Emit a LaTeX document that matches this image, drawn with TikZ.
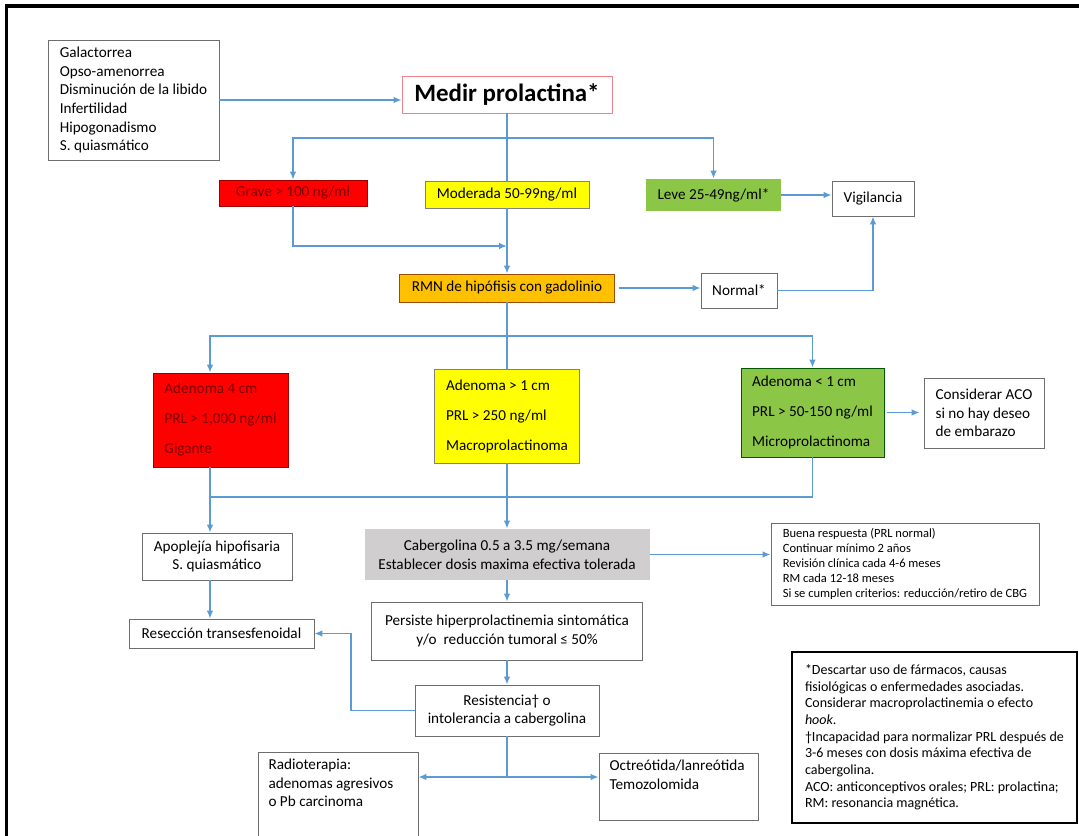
\documentclass[tikz,border=0pt]{standalone}
\usepackage{fontspec}
\setmainfont{Carlito}
\usepackage{tikz}
\usetikzlibrary{positioning}
\usetikzlibrary{shapes,arrows,calc,arrows.meta}

\definecolor{azul}{RGB}{91,155,213}
\definecolor{rojo}{RGB}{255,0,0}
\definecolor{rojotxt}{RGB}{125,0,0}
\definecolor{amarillo}{RGB}{255,255,0}
\definecolor{verde}{RGB}{140,198,70}
\definecolor{naranja}{RGB}{255,192,0}
\definecolor{gris}{RGB}{208,206,206}
\definecolor{rosa}{RGB}{240,130,140}
\definecolor{borde}{RGB}{110,110,110}

\newcommand{\pxu}{0.75pt}

\tikzset{
  caja/.style={draw=borde, line width=0.6pt, fill=white, align=center, inner sep=2pt,
    font=\fontsize{11.4}{14}\selectfont},
  cajaizq/.style={caja, align=left},
  texto/.style={align=left, inner xsep=8pt, inner ysep=5pt, anchor=north west,
    font=\fontsize{11.4}{14}\selectfont},
  flecha/.style={draw=azul, line width=1.4pt, -{Latex[length=6pt,width=5pt]}},
  linea/.style={draw=azul, line width=1.4pt},
}

\begin{document}
\begin{tikzpicture}[x=0.75pt, y=-0.75pt]
  % Page size and frame
  \clip (0,0) rectangle (1079,836);
  \fill[white] (0,0) rectangle (1079,836);
  \draw[line width=2.5pt] (1090,6) -- (6.5,6) -- (6.5,850);

  % Symptoms and first test
  \node[cajaizq, minimum width=171*\pxu, minimum height=120*\pxu] (sintomas) at (133.5,100)
    {Galactorrea\\Opso-amenorrea\\Disminución de la libido\\Infertilidad\\Hipogonadismo\\S. quiasmático};
  \node[caja, draw=rosa, minimum width=210*\pxu, minimum height=37*\pxu,
    font=\fontsize{18.7}{22}\selectfont\bfseries] (medir) at (507,94.5) {Medir prolactina*};

  % Prolactin levels
  \node[caja, fill=rojo, draw=red!60!black, text=rojotxt, minimum width=148*\pxu, minimum height=26*\pxu] (grave) at (293,193) {Grave > 100 ng/ml};
  \node[caja, fill=amarillo, draw=gray, minimum width=164*\pxu, minimum height=27*\pxu] (moderada) at (507,194.5) {Moderada 50-99ng/ml};
  \node[caja, fill=verde, draw=none, minimum width=135*\pxu, minimum height=32*\pxu] (leve) at (713.5,195) {Leve 25-49ng/ml*};
  \node[caja, minimum width=82*\pxu, minimum height=35*\pxu] (vigilancia) at (873,198.5) {Vigilancia};

  % Imaging
  \node[caja, fill=naranja, draw=orange!60!black, minimum width=215*\pxu, minimum height=28*\pxu] (rmn) at (507,288) {RMN de hipófisis con gadolinio};
  \node[caja, minimum width=76*\pxu, minimum height=35*\pxu] (normal) at (739,290.5) {Normal*};

  % Adenoma types
  \node[cajaizq, fill=rojo, draw=red!60!black, text=rojotxt, minimum width=135*\pxu, minimum height=94*\pxu,
    font=\fontsize{11.4}{22.5}\selectfont] (adgig) at (220.5,420) {Adenoma 4 cm\\PRL > 1,000 ng/ml\\Gigante};
  \node[cajaizq, fill=amarillo, draw=gray, minimum width=145*\pxu, minimum height=94*\pxu,
    font=\fontsize{11.4}{22.5}\selectfont] (macro) at (507,416) {Adenoma > 1 cm\\PRL > 250 ng/ml\\Macroprolactinoma};
  \node[cajaizq, fill=verde, draw=green!35!black, minimum width=143*\pxu, minimum height=89*\pxu,
    font=\fontsize{11.4}{22.5}\selectfont] (micro) at (812.5,412.5) {Adenoma < 1 cm\\PRL > 50-150 ng/ml\\Microprolactinoma};
  \node[cajaizq, minimum width=120*\pxu, minimum height=70*\pxu] (aco) at (984,413) {Considerar ACO\\si no hay deseo\\de embarazo};

  % Treatment
  \node[caja, minimum width=150*\pxu, minimum height=47*\pxu] (apop) at (217,556.5) {Apoplejía hipofisaria\\S. quiasmático};
  \node[caja, fill=gris, draw=none, minimum width=285*\pxu, minimum height=51*\pxu] (cab) at (507,554.5)
    {Cabergolina 0.5 a 3.5 mg/semana\\Establecer dosis maxima efectiva tolerada};
  \node[cajaizq, minimum width=268*\pxu, minimum height=82*\pxu, font=\fontsize{9.4}{11.25}\selectfont] (buena) at (905,564)
    {Buena respuesta (PRL normal)\\Continuar mínimo 2 años\\Revisión clínica cada 4-6 meses\\RM cada 12-18 meses\\Si se cumplen criterios: reducción/retiro de CBG};
  \node[caja, minimum width=185*\pxu, minimum height=29*\pxu] (resec) at (221.5,633.5) {Resección transesfenoidal};
  \node[caja, minimum width=271*\pxu, minimum height=58*\pxu] (persiste) at (507,631)
    {Persiste hiperprolactinemia sintomática\\y/o\ \ reducción tumoral ≤ 50\%};
  \node[caja, minimum width=184*\pxu, minimum height=51*\pxu] (resist) at (507,710.5) {Resistencia† o\\intolerancia a cabergolina};
  \node[caja, anchor=north, minimum width=160*\pxu, minimum height=100*\pxu] (radio) at (338,752) {};
  \node[texto] (radiotxt) at (radio.north west) {Radioterapia:\\adenomas agresivos\\o Pb carcinoma};
  \node[caja, anchor=north, minimum width=159*\pxu, minimum height=67*\pxu] (octre) at (678.5,753) {};
  \node[texto] (octretxt) at (octre.north west) {Octreótida/lanreótida\\Temozolomida};

  % Footnote
  \node[cajaizq, draw=black, line width=1.5pt, minimum width=285*\pxu, minimum height=171*\pxu,
    font=\fontsize{10.5}{12.5}\selectfont] (nota) at (934.5,737.5)
    {*Descartar uso de fármacos, causas\\fisiológicas o enfermedades asociadas.\\Considerar macroprolactinemia o efecto\\\textit{hook}.\\†Incapacidad para normalizar PRL después de\\3-6 meses con dosis máxima efectiva de\\cabergolina.\\ACO: anticonceptivos orales; PRL: prolactina;\\RM: resonancia magnética.};

  % Junction points
  \coordinate (sp1) at (507,138);
  \coordinate (jn) at (507,246);
  \coordinate (sp2) at (507,336);
  \coordinate (mrg) at (507,497);
  \coordinate (sp3) at (507,777);
  \coordinate (cl) at (210,0);
  \coordinate (rb) at (351,0);

  % Connectors
  \draw[flecha] (sintomas.east) -- (sintomas.east -| medir.west);
  \draw[linea] (medir.south) -- (moderada.north);
  \draw[flecha] (sp1) -| (grave.north);
  \draw[flecha] (sp1) -| (leve.north);
  \draw[flecha] (leve.east) -- (leve.east -| vigilancia.west);
  \draw[flecha] (grave.south) |- (jn);
  \draw[flecha] (moderada.south) -- (rmn.north);
  \draw[flecha, shorten <=3pt] (rmn.east) -- (rmn.east -| normal.west);
  \draw[flecha] (normal.east) -| (vigilancia.south);
  \draw[linea] (rmn.south) -- (macro.north);
  \draw[flecha] (sp2) -| (cl |- adgig.north);
  \draw[flecha] (sp2) -| (micro.north);
  \draw[flecha, shorten <=2pt, shorten >=3pt] (micro.east) -- (micro.east -| aco.west);
  \draw[linea] (micro.south) |- (cl |- mrg);
  \draw[flecha] (cl |- adgig.south) -- (cl |- apop.north);
  \draw[flecha] (macro.south) -- (cab.north);
  \draw[flecha] (cab.east) -- (cab.east -| buena.west);
  \draw[flecha] (cab.south) -- (persiste.north);
  \draw[flecha] (cl |- apop.south) -- (cl |- resec.north);
  \draw[flecha] (persiste.south) -- (resist.north);
  \draw[flecha] (resist.west) -| (rb |- resec.east) -- (resec.east);
  \draw[linea] (resist.south) -- (sp3);
  \draw[flecha] (sp3) -- (sp3 -| radio.east);
  \draw[flecha] (sp3) -- (sp3 -| octre.west);
\end{tikzpicture}
\end{document}
